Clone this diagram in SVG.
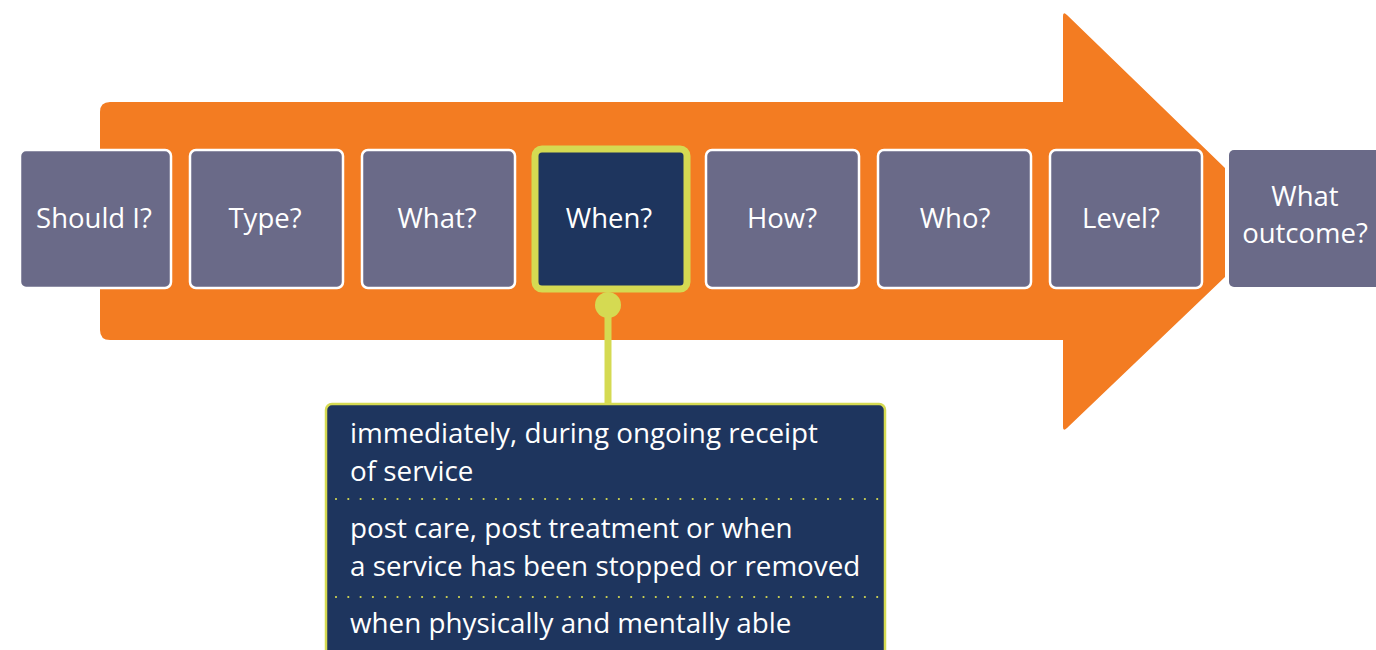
<svg xmlns="http://www.w3.org/2000/svg" width="1376" height="650" viewBox="0 0 1376 650">
<style>
.box{fill:#6a6a88;stroke:#ffffff;stroke-width:2.5}
.lbl{font-family:"Open Sans","Liberation Sans",sans-serif;font-size:27.5px;fill:#ffffff;text-anchor:middle}
.ct{font-family:"Open Sans","Liberation Sans",sans-serif;font-size:27.8px;fill:#ffffff}
.dots{stroke:#d5da52;stroke-width:2.2;stroke-linecap:round;stroke-dasharray:0 12.3}
</style>
<rect width="1376" height="650" fill="#ffffff"/>
<g id="arrow">
<path d="M110,102 H1063 V16 Q1063,11 1067,15 L1225,168 V277 L1067,428 Q1063,432 1063,427 V340 H110 Q100,340 100,330 V112 Q100,102 110,102 Z" fill="#f37c22"/>
</g>
<g id="node-should"><rect class="box" x="20" y="150" width="151" height="138" rx="6"/><text class="lbl" x="94" y="228">Should I?</text></g>
<g id="node-type"><rect class="box" x="190" y="150" width="153" height="138" rx="6"/><text class="lbl" x="265" y="228">Type?</text></g>
<g id="node-what"><rect class="box" x="362" y="150" width="153" height="138" rx="6"/><text class="lbl" x="437" y="228">What?</text></g>
<g id="node-how"><rect class="box" x="706" y="150" width="153" height="138" rx="6"/><text class="lbl" x="782" y="228">How?</text></g>
<g id="node-who"><rect class="box" x="878" y="150" width="153" height="138" rx="6"/><text class="lbl" x="955" y="228">Who?</text></g>
<g id="node-level"><rect class="box" x="1050" y="150" width="152" height="138" rx="6"/><text class="lbl" x="1121" y="228">Level?</text></g>
<g id="node-outcome"><rect x="1229" y="150" width="160" height="137" rx="5" fill="#6a6a88"/><text class="lbl" x="1305" y="206">What</text><text class="lbl" x="1305" y="243">outcome?</text></g>
<g id="connectors">
<line x1="608" y1="305" x2="608" y2="406" stroke="#d5da52" stroke-width="7"/>
<circle cx="608" cy="305" r="13" fill="#d5da52"/>
</g>
<g id="node-when"><rect x="535" y="149" width="152" height="140" rx="7" fill="#1e355e" stroke="#d5da52" stroke-width="7"/><text class="lbl" x="609" y="228">When?</text></g>
<g id="callout">
<rect x="326" y="404" width="559" height="260" rx="6" fill="#1e355e" stroke="#d5da52" stroke-width="2.5"/>
<text class="ct" x="350" y="443">immediately, during ongoing receipt</text>
<text class="ct" x="350" y="481">of service</text>
<line class="dots" x1="336" y1="499" x2="880" y2="499"/>
<text class="ct" x="350" y="538">post care, post treatment or when</text>
<text class="ct" x="350" y="576">a service has been stopped or removed</text>
<line class="dots" x1="336" y1="597" x2="880" y2="597"/>
<text class="ct" x="350" y="633">when physically and mentally able</text>
</g>
</svg>
